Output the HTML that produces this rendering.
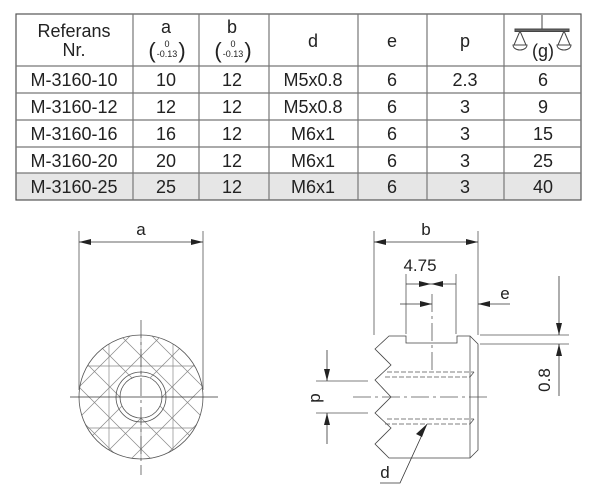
<!DOCTYPE html>
<html><head><meta charset="utf-8"><meta name="viewport" content="width=600,height=502"><style>
html,body{margin:0;padding:0;background:#fff;width:600px;height:502px;overflow:hidden}
svg{display:block}
text{font-family:"Liberation Sans",Arial,sans-serif;fill:#222}
</style></head><body>
<svg width="600" height="502" viewBox="0 0 600 502" xmlns="http://www.w3.org/2000/svg">
<defs>
<clipPath id="cc"><circle cx="141" cy="397" r="62"/></clipPath>
<marker id="ah" viewBox="0 0 12 6" refX="12" refY="3" markerWidth="12" markerHeight="6" orient="auto-start-reverse" markerUnits="userSpaceOnUse"><path d="M0,0 L12,3 L0,6 z" fill="#222"/></marker>
</defs>
<rect x="16" y="173" width="565" height="27" fill="#e6e6e6"/>
<g stroke="#777" stroke-width="1.2" fill="none">
<rect x="16" y="14" width="565" height="186" stroke="#555"/>
<line x1="16" y1="66" x2="581" y2="66"/><line x1="16" y1="93" x2="581" y2="93"/>
<line x1="16" y1="120" x2="581" y2="120"/><line x1="16" y1="147" x2="581" y2="147"/>
<line x1="16" y1="173" x2="581" y2="173"/>
<line x1="133" y1="14" x2="133" y2="200"/><line x1="199" y1="14" x2="199" y2="200"/>
<line x1="269" y1="14" x2="269" y2="200"/><line x1="358" y1="14" x2="358" y2="200"/>
<line x1="427" y1="14" x2="427" y2="200"/><line x1="504" y1="14" x2="504" y2="200"/>
</g>
<g font-size="18" text-anchor="middle">
<text x="74" y="37">Referans</text><text x="74" y="56">Nr.</text>
<text x="166" y="33">a</text><text x="232" y="33">b</text>
<text x="313" y="47">d</text><text x="392" y="47">e</text><text x="465" y="47">p</text>
<text x="543" y="57">(g)</text>
</g>
<g font-size="9" text-anchor="middle">
<text x="167" y="47">0</text><text x="167" y="57">-0.13</text>
<text x="233" y="47">0</text><text x="233" y="57">-0.13</text>
</g>
<g text-anchor="middle" font-size="22">
<text x="152" y="58" transform="scale(1,1)">(</text><text x="182" y="58">)</text>
<text x="218" y="58">(</text><text x="248" y="58">)</text>
</g>
<g stroke="#444" fill="none" stroke-width="1">
<line x1="542" y1="15" x2="542" y2="30"/><rect x="515" y="29" width="54" height="2.5" fill="#666"/>
<path d="M520,31 L514,45 M520,31 L526,45 M513,45 A7,5 0 0 0 527,45 Z"/>
<path d="M564,31 L558,45 M564,31 L570,45 M557,45 A7,5 0 0 0 571,45 Z"/>
</g>
<g font-size="18" text-anchor="middle">
<text x="74" y="86">M-3160-10</text><text x="166" y="86">10</text><text x="232" y="86">12</text><text x="313" y="86">M5x0.8</text><text x="392" y="86">6</text><text x="465" y="86">2.3</text><text x="543" y="86">6</text>
<text x="74" y="113">M-3160-12</text><text x="166" y="113">12</text><text x="232" y="113">12</text><text x="313" y="113">M5x0.8</text><text x="392" y="113">6</text><text x="465" y="113">3</text><text x="543" y="113">9</text>
<text x="74" y="140">M-3160-16</text><text x="166" y="140">16</text><text x="232" y="140">12</text><text x="313" y="140">M6x1</text><text x="392" y="140">6</text><text x="465" y="140">3</text><text x="543" y="140">15</text>
<text x="74" y="167">M-3160-20</text><text x="166" y="167">20</text><text x="232" y="167">12</text><text x="313" y="167">M6x1</text><text x="392" y="167">6</text><text x="465" y="167">3</text><text x="543" y="167">25</text>
<text x="74" y="193">M-3160-25</text><text x="166" y="193">25</text><text x="232" y="193">12</text><text x="313" y="193">M6x1</text><text x="392" y="193">6</text><text x="465" y="193">3</text><text x="543" y="193">40</text>
</g>
<g stroke="#555" stroke-width="0.8" fill="none">
<line x1="79" y1="231" x2="79" y2="390"/><line x1="203" y1="231" x2="203" y2="390"/>
<line x1="79" y1="242" x2="203" y2="242" stroke="#333" marker-start="url(#ah)" marker-end="url(#ah)"/>
<g clip-path="url(#cc)" stroke="#888" stroke-width="0.7">
<line x1="109" y1="330" x2="109" y2="465"/><line x1="141" y1="330" x2="141" y2="465"/><line x1="173" y1="330" x2="173" y2="465"/>
<line x1="75" y1="366" x2="210" y2="366"/><line x1="75" y1="428" x2="210" y2="428"/>
<line x1="-4" y1="242" x2="296" y2="542"/><line x1="27" y1="242" x2="327" y2="542"/><line x1="58" y1="242" x2="358" y2="542"/><line x1="89" y1="242" x2="389" y2="542"/><line x1="120" y1="242" x2="420" y2="542"/><line x1="-35" y1="242" x2="265" y2="542"/><line x1="-66" y1="242" x2="234" y2="542"/><line x1="-97" y1="242" x2="203" y2="542"/><line x1="-128" y1="242" x2="172" y2="542"/>
<line x1="286" y1="242" x2="-14" y2="542"/><line x1="255" y1="242" x2="-45" y2="542"/><line x1="224" y1="242" x2="-76" y2="542"/><line x1="317" y1="242" x2="17" y2="542"/><line x1="348" y1="242" x2="48" y2="542"/><line x1="379" y1="242" x2="79" y2="542"/><line x1="410" y1="242" x2="110" y2="542"/><line x1="193" y1="242" x2="-107" y2="542"/><line x1="162" y1="242" x2="-138" y2="542"/>
</g>
<circle cx="141" cy="397" r="62" stroke="#555"/>
<circle cx="141" cy="397" r="25"/>
<circle cx="141" cy="397" r="21" fill="#fff"/>
<line x1="70" y1="397" x2="218" y2="397" stroke="#333"/>
<line x1="141" y1="320" x2="141" y2="475" stroke-dasharray="18,4,3,4"/>
</g>
<g font-size="17" text-anchor="middle"><text x="141" y="235">a</text></g>
<g stroke="#555" stroke-width="0.8" fill="none">
<path d="M389,336 L406,336 L406,343 L457,343 L457,336 L470,336 L478,344 L478,450 L470,458 L389,458 L375,444 L391,428 L375,413 L391,397 L375,380 L391,365 L375,349 Z" stroke="#444"/>
<line x1="470" y1="336" x2="470" y2="458"/>
<g stroke-dasharray="5,2">
<line x1="387" y1="372" x2="474" y2="372"/><line x1="385" y1="377" x2="470" y2="377"/>
<line x1="387" y1="419" x2="474" y2="419"/><line x1="385" y1="424" x2="470" y2="424"/>
</g>
<line x1="470" y1="377" x2="474" y2="372"/><line x1="470" y1="424" x2="474" y2="419"/>
<line x1="353" y1="397" x2="488" y2="397" stroke-dasharray="18,4,3,4"/>
<line x1="432" y1="294" x2="432" y2="370" stroke-dasharray="18,4,3,4"/>
<line x1="374" y1="231" x2="374" y2="335"/><line x1="478" y1="231" x2="478" y2="335"/>
<line x1="374" y1="242" x2="478" y2="242" stroke="#333" marker-start="url(#ah)" marker-end="url(#ah)"/>
<line x1="406" y1="274" x2="406" y2="334"/><line x1="456" y1="274" x2="456" y2="334"/>
<line x1="406" y1="284" x2="431" y2="284" stroke="#333" marker-end="url(#ah)"/>
<line x1="456" y1="284" x2="431" y2="284" stroke="#333" marker-end="url(#ah)"/>
<line x1="400" y1="304" x2="432" y2="304" stroke="#333" marker-end="url(#ah)"/>
<line x1="510" y1="304" x2="478" y2="304" stroke="#333" marker-end="url(#ah)"/>
<line x1="480" y1="335" x2="569" y2="335"/><line x1="480" y1="344" x2="569" y2="344"/>
<line x1="559" y1="276" x2="559" y2="335" stroke="#333" marker-end="url(#ah)"/>
<line x1="559" y1="396" x2="559" y2="344" stroke="#333" marker-end="url(#ah)"/>
<line x1="316" y1="381" x2="368" y2="381"/><line x1="316" y1="413" x2="368" y2="413"/>
<line x1="327" y1="350" x2="327" y2="381" stroke="#333" marker-end="url(#ah)"/>
<line x1="327" y1="444" x2="327" y2="413" stroke="#333" marker-end="url(#ah)"/>
<polyline points="380,483 400,483 427,424" stroke="#333"/>
</g>
<path d="M427,424 L422,437 L416,434 Z" fill="#222"/>
<g font-size="17" text-anchor="middle">
<text x="426" y="235">b</text>
<text x="420" y="271">4.75</text>
<text x="505" y="299">e</text>
<text x="385" y="478">d</text>
<text transform="translate(550,380) rotate(-90)">0.8</text>
<text transform="translate(320,398) rotate(-90)">p</text>
</g>
</svg>
</body></html>
